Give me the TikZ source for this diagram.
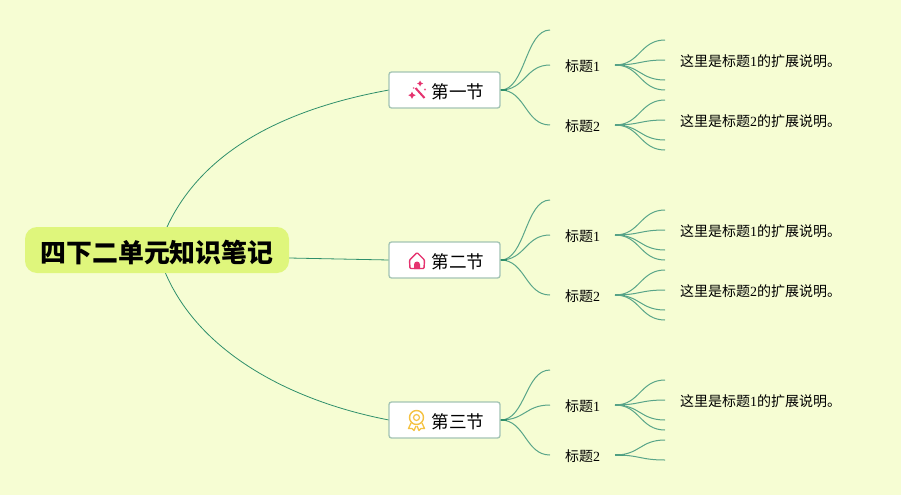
\documentclass[tikz,border=0pt]{standalone}
\usepackage{fontspec}
\setmainfont{Noto Sans CJK SC}
\newfontfamily\digitfont{Liberation Serif}
\newcommand{\dg}[1]{{\digitfont #1}}
\definecolor{bgc}{HTML}{F6FDD3}
\definecolor{rootc}{HTML}{DFF67C}
\definecolor{linec}{HTML}{2F8F6B}
\definecolor{boxc}{HTML}{A3C4B4}
\definecolor{pinkc}{HTML}{E5336F}
\definecolor{goldc}{HTML}{F5C242}
\tikzset{
  x=1pt,y=-1pt,
  rootnode/.style={fill=rootc,rounded corners=12pt,minimum width=264pt,minimum height=46pt,inner sep=0pt},
  roottext/.style={inner sep=0pt,font=\fontsize{25.9}{30}\selectfont\bfseries},
  secnode/.style={draw=boxc,line width=1.3pt,fill=white,rounded corners=2.5pt,minimum width=111pt,minimum height=36pt,inner sep=0pt},
  sectext/.style={inner sep=0pt,font=\fontsize{17.6}{20}\selectfont},
  subnode/.style={inner sep=0pt,font=\fontsize{14}{17}\selectfont},
  notenode/.style={inner sep=0pt,anchor=west,font=\fontsize{14}{17}\selectfont},
  mainline/.style={draw=linec,line width=0.8pt},
  branchline/.style={draw=linec!80,line width=1pt},
  stubline/.style={draw=linec,line width=1.6pt},
}
\newcommand{\branch}[2]{% from coordinate #1 to coordinate #2, S-curve
  \draw[branchline] (#1) .. controls ($(#1)!0.5!(#1-|#2)$) and ($(#2)!0.5!(#1|-#2)$) .. (#2);}
\usetikzlibrary{calc}
\begin{document}
\begin{tikzpicture}
\useasboundingbox (0,0) rectangle (901,495);
\fill[bgc] (0,0) rectangle (901,495);

% root and sections
\coordinate (rootT) at (167,227);
\coordinate (rootB) at (165,272);
\coordinate (rootR) at (289,258);
\draw[mainline] (rootT) .. controls (205,145) and (295,107) .. (389,90) coordinate (sa1);
\draw[mainline] (rootB) .. controls (200,355) and (295,402) .. (389,420) coordinate (sa3);
\draw[mainline] (rootR) -- (389,260) coordinate (sa2);
\node[rootnode] (root) at (157,250) {};
\node[roottext] (roottitle) at (157,252) {四下二单元知识笔记};

\foreach \n/\y in {1/90,2/260,3/420}{
  \node[secnode] (sec\n) at (444.5,\y) {};
  \coordinate (out\n) at (sec\n.east);
}
\node[sectext,anchor=west] (t1) at (431.5,91.5) {第一节};
\node[sectext,anchor=west] (t2) at (431.5,261.5) {第二节};
\node[sectext,anchor=west] (t3) at (431.5,421.5) {第三节};

% wand icon
\draw[pinkc,line width=2pt] (415.5,88) -- (424.5,98);
\fill[pinkc] (412,91.5) -- (413.2,94) -- (415.7,95.2) -- (413.2,96.4) -- (412,98.9) -- (410.8,96.4) -- (408.3,95.2) -- (410.8,94) -- cycle;
\fill[pinkc] (420,80.5) -- (421,82.5) -- (423,83.5) -- (421,84.5) -- (420,86.5) -- (419,84.5) -- (417,83.5) -- (419,82.5) -- cycle;
\fill[pinkc!70] (413.5,88) circle (1pt);
\fill[pinkc!80] (425,89.5) circle (1.2pt);
% house icon
\draw[pinkc,line width=1.4pt,line join=round,rounded corners=1pt] (409.5,260) -- (417,252.5) -- (424.5,260) -- (424,268.5) -- (410,268.5) -- cycle;
\fill[pinkc] (414,269) -- (414,264.5) arc[start angle=180,end angle=0,radius=3pt] -- (420,269) -- cycle;
% medal icon
\draw[goldc,line width=1.4pt] (416.5,417.5) circle (7pt);
\draw[goldc,line width=1.2pt] (416.5,417.5) circle (3pt);
\draw[goldc,line width=1.3pt,line join=round] (411,423) -- (408.5,428.5) -- (412,428.5) -- (414,430.5) -- (416,426);
\draw[goldc,line width=1.3pt,line join=round] (422,423) -- (424.5,428.5) -- (421,428.5) -- (419,430.5) -- (417,426);

% first-level branches and sub-labels
\foreach \s/\a/\b/\c in {1/30/65/125, 2/200/235/295, 3/370/405/455}{
  \coordinate (e\s a) at (550,\a);
  \coordinate (e\s b) at (550,\b);
  \coordinate (e\s c) at (550,\c);
  \branch{out\s}{e\s a}
  \branch{out\s}{e\s b}
  \branch{out\s}{e\s c}
  \draw[stubline] (out\s) -- ++(6,0);
}
\foreach \s/\b/\c in {1/66.5/126.5, 2/236.5/296.5, 3/406.5/456.5}{
  \node[subnode,anchor=west] (l\s x) at (565,\b) {标题\dg{1}};
  \node[subnode,anchor=west] (l\s y) at (565,\c) {标题\dg{2}};
  \coordinate (o\s x) at (615,\b-1.5);
  \coordinate (o\s y) at (615,\c-1.5);
  \draw[stubline] (o\s x) -- ++(10,0);
  \draw[stubline] (o\s y) -- ++(10,0);
}
% second-level branches
\foreach \o/\y in {1x/40,1x/60,1x/80,1x/90,1y/100,1y/120,1y/140,1y/150,
                   2x/210,2x/230,2x/250,2x/260,2y/270,2y/290,2y/310,2y/320,
                   3x/380,3x/400,3x/420,3x/430,3y/440,3y/460}{
  \coordinate (f) at (665,\y);
  \branch{o\o}{f}
}
% notes
\node[notenode] (n1) at (680,61.5) {这里是标题\dg{1}的扩展说明。};
\node[notenode] (n2) at (680,121.5) {这里是标题\dg{2}的扩展说明。};
\node[notenode] (n3) at (680,231.5) {这里是标题\dg{1}的扩展说明。};
\node[notenode] (n4) at (680,291.5) {这里是标题\dg{2}的扩展说明。};
\node[notenode] (n5) at (680,401.5) {这里是标题\dg{1}的扩展说明。};
\end{tikzpicture}
\end{document}
